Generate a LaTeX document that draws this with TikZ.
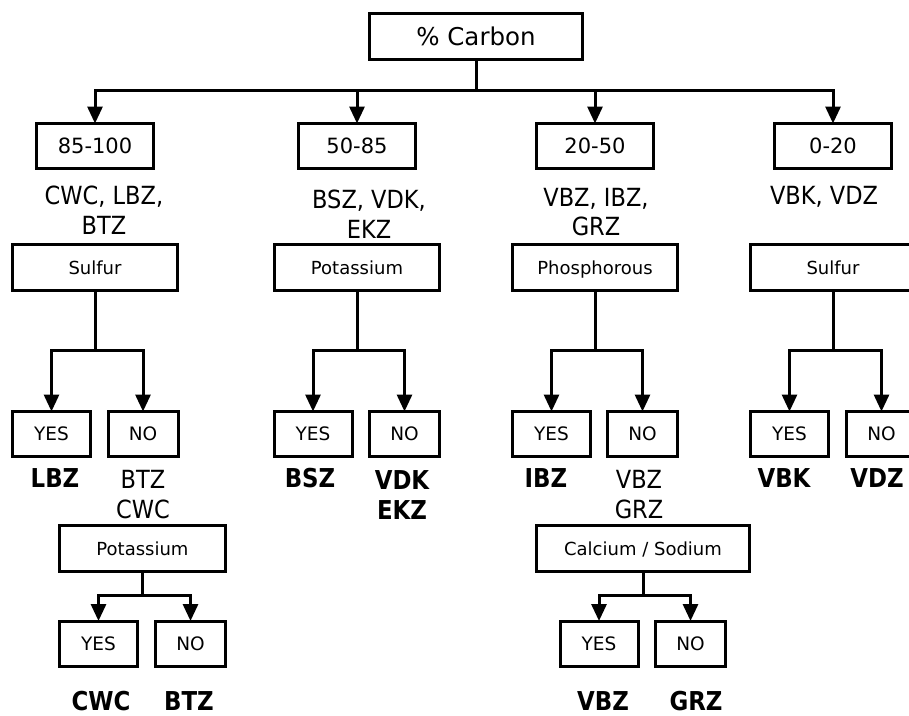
\documentclass[tikz,border=0pt]{standalone}
\usepackage{fontspec}
\setmainfont{DejaVu Sans}
\newfontfamily\narrowfont[FakeStretch=0.9]{DejaVu Sans}
\newfontface\narrowbold[FakeStretch=0.88]{DejaVu Sans Bold}
\usetikzlibrary{arrows.meta}
\begin{document}
\begin{tikzpicture}[x=1pt,y=-1pt,
  every node/.style={inner sep=0pt, outer sep=0pt},
  bx/.style={draw, line width=3pt, minimum height=46pt, text depth=0pt},
  hdr/.style={bx, minimum width=213pt, text height=17.9pt, font=\fontsize{24.5}{29}\selectfont},
  rng/.style={bx, minimum width=117pt, minimum height=45pt, text height=15.3pt, font=\fontsize{21}{25}\selectfont},
  crit/.style={bx, minimum width=165pt, text height=13.1pt, font=\fontsize{18}{22}\selectfont},
  yesbox/.style={bx, minimum width=78pt, minimum height=45pt, text height=13.5pt, font=\fontsize{18.5}{22}\selectfont},
  nobox/.style={bx, minimum width=70pt, minimum height=45pt, text height=13.5pt, font=\fontsize{18.5}{22}\selectfont},
  grp/.style={align=center, font=\narrowfont\fontsize{25}{29.5}\selectfont},
  res/.style={align=center, font=\narrowfont\fontsize{25}{30}\selectfont},
  resb/.style={align=center, font=\narrowbold\fontsize{26}{30}\selectfont},
  ln/.style={line width=3pt},
  arr/.style={line width=3pt, -{Triangle[width=15pt,length=17pt]}}
]
\useasboundingbox (0,0) rectangle (909,715);
\clip (0,0) rectangle (909,715);

% top level
\node[hdr] (carbon) at (476,36.5) {\% Carbon};
\node[rng] (r1) at (95,146) {85-100};
\node[rng] (r2) at (357,146) {50-85};
\node[rng] (r3) at (595,146) {20-50};
\node[rng] (r4) at (833,146) {0-20};

\node[grp] (g1) at (104,210) {CWC, LBZ,\\BTZ};
\node[grp] (g2) at (369,214) {BSZ, VDK,\\EKZ};
\node[grp] (g3) at (596,212) {VBZ, IBZ,\\GRZ};
\node[grp] (g4) at (824,197) {VBK, VDZ};

\node[crit] (s1) at (95,267.5) {Sulfur};
\node[crit] (s2) at (357,267.5) {Potassium};
\node[crit] (s3) at (595,267.5) {Phosphorous};
\node[crit] (s4) at (833,267.5) {Sulfur};

\node[yesbox] (y1) at (51.5,434) {YES};
\node[nobox]  (n1) at (143,434) {NO};
\node[yesbox] (y2) at (313,434) {YES};
\node[nobox]  (n2) at (404.5,434) {NO};
\node[yesbox] (y3) at (551.5,434) {YES};
\node[nobox]  (n3) at (642.5,434) {NO};
\node[yesbox] (y4) at (789.5,434) {YES};
\node[nobox]  (n4) at (881.5,434) {NO};

\node[resb] (a1) at (55,478) {LBZ};
\node[res]  (b1) at (143,495) {BTZ\\CWC};
\node[resb] (a2) at (310,478) {BSZ};
\node[resb] (b2) at (402,495) {VDK\\EKZ};
\node[resb] (a3) at (546,478) {IBZ};
\node[res]  (b3) at (639,495) {VBZ\\GRZ};
\node[resb] (a4) at (784,478) {VBK};
\node[resb] (b4) at (877,478) {VDZ};

% second level
\node[crit, minimum width=166pt] (p5) at (142.5,548.5) {Potassium};
\node[hdr, text height=13.1pt, font=\fontsize{18}{22}\selectfont] (c6) at (643,548.5) {Calcium / Sodium};
\node[yesbox] (y5) at (98.5,643.5) {YES};
\node[nobox]  (n5) at (190.5,643.5) {NO};
\node[yesbox] (y6) at (599,643.5) {YES};
\node[nobox]  (n6) at (690.5,643.5) {NO};

\node[resb] (a5) at (101,701) {CWC};
\node[resb] (b5) at (189,701) {BTZ};
\node[resb] (a6) at (603,701) {VBZ};
\node[resb] (b6) at (696,701) {GRZ};

% connectors
\coordinate (hub) at (476,90);
\draw[ln] (carbon.south) -- (hub);
\draw[arr] (hub) -| (r1.north);
\draw[arr] (hub) -| (r2.north);
\draw[arr] (hub) -| (r3.north);
\draw[arr] (hub) -| (r4.north);

\coordinate (k1) at (95,350);
\coordinate (k2) at (357,350);
\coordinate (k3) at (595,350);
\coordinate (k4) at (833,350);
\draw[ln] (s1.south) -- (k1);
\draw[ln] (s2.south) -- (k2);
\draw[ln] (s3.south) -- (k3);
\draw[ln] (s4.south) -- (k4);
\draw[arr] (k1) -| (y1.north);
\draw[arr] (k1) -| (n1.north);
\draw[arr] (k2) -| (y2.north);
\draw[arr] (k2) -| (n2.north);
\draw[arr] (k3) -| (y3.north);
\draw[arr] (k3) -| (n3.north);
\draw[arr] (k4) -| (y4.north);
\draw[arr] (k4) -| (n4.north);

\coordinate (k5) at (142.5,595);
\coordinate (k6) at (643,595);
\draw[ln] (p5.south) -- (k5);
\draw[ln] (c6.south) -- (k6);
\draw[arr] (k5) -| (y5.north);
\draw[arr] (k5) -| (n5.north);
\draw[arr] (k6) -| (y6.north);
\draw[arr] (k6) -| (n6.north);
\end{tikzpicture}
\end{document}
